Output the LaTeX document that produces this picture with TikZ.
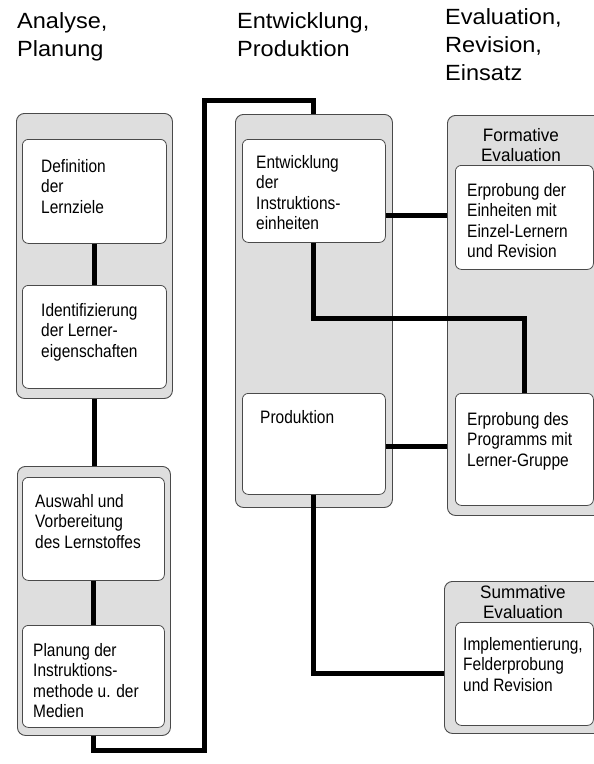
\documentclass[tikz,border=0pt]{standalone}
\usepackage{fontspec}
\setmainfont[FakeStretch=0.86]{Liberation Sans}
\newfontfamily\headfont[FakeStretch=1.07]{Liberation Sans}
\newfontfamily\titlefont[FakeStretch=0.95]{Liberation Sans}
\usetikzlibrary{calc}
\definecolor{groupgray}{HTML}{DEDEDE}
\definecolor{edgegray}{HTML}{4A4A4A}
\tikzset{
  group/.style={draw=edgegray, line width=0.9pt, fill=groupgray, rounded corners=8pt,
    anchor=north west, inner sep=0pt},
  card/.style={draw=edgegray, line width=0.8pt, fill=white, rounded corners=6pt,
    anchor=north west, inner sep=0pt},
  txt/.style={anchor=north west, inner sep=0pt, align=left,
    font=\fontsize{18}{20.5}\selectfont},
  ttl/.style={anchor=north, inner sep=0pt, align=center,
    font=\titlefont\fontsize{18}{20}\selectfont},
  head/.style={anchor=north west, inner sep=0pt, align=left,
    font=\headfont\fontsize{22}{28}\selectfont},
  link/.style={line width=5pt, black, line join=miter},
}
\begin{document}
\begin{tikzpicture}[x=1pt,y=-1pt]
\clip (0,0) rectangle (594,764);
\fill[white] (0,0) rectangle (594,764);

% column headings
\node[head] (h1) at (17,12) {Analyse,\\Planung};
\node[head] (h2) at (237,12) {Entwicklung,\\Produktion};
\node[head] (h3) at (445,8) {Evaluation,\\Revision,\\Einsatz};

% grey group panels
\node[group, minimum width=156, minimum height=285] (g1) at (16,113) {};
\node[group, minimum width=153, minimum height=269] (g2) at (17,466) {};
\node[group, minimum width=157, minimum height=393] (g3) at (235,114) {};
\node[group, minimum width=165, minimum height=400] (g4) at (447,115) {};
\node[group, minimum width=165, minimum height=152] (g5) at (444,581) {};

% white step cards
\node[card, minimum width=144, minimum height=104] (b1) at (22,139) {};
\node[card, minimum width=144, minimum height=103] (b2) at (22,285) {};
\node[card, minimum width=142, minimum height=103] (b3) at (22,477) {};
\node[card, minimum width=142, minimum height=102] (b4) at (22,625) {};
\node[card, minimum width=143, minimum height=103] (b5) at (242,139) {};
\node[card, minimum width=143, minimum height=101] (b6) at (242,393) {};
\node[card, minimum width=138, minimum height=104] (b7) at (455,165) {};
\node[card, minimum width=138, minimum height=112] (b8) at (455,393) {};
\node[card, minimum width=138, minimum height=103] (b9) at (455,622) {};

% card texts
\node[txt] (t1) at (41,159) {Definition\\der\\Lernziele};
\node[txt] (t2) at (41,303) {Identifizierung\\der Lerner-\\eigenschaften};
\node[txt] (t3) at (35,494) {Auswahl und\\Vorbereitung\\des Lernstoffes};
\node[txt] (t4) at (33,643) {Planung der\\Instruktions-\\methode u. der\\Medien};
\node[txt] (t5) at (256,155) {Entwicklung\\der\\Instruktions-\\einheiten};
\node[txt] (t6) at (260,410) {Produktion};
\node[txt] (t7) at (467,183) {Erprobung der\\Einheiten mit\\Einzel-Lernern\\und Revision};
\node[txt] (t8) at (467,412) {Erprobung des\\Programms mit\\Lerner-Gruppe};
\node[txt] (t9) at (463,637) {Implementierung,\\Felderprobung\\und Revision};

% panel titles
\node[ttl] (f1) at (521,128) {Formative\\Evaluation};
\node[ttl] (f2) at (523,585) {Summative\\Evaluation};

% connectors
\coordinate (lp1) at (204,750);
\coordinate (lp2) at (204,100);
\coordinate (e1) at ($(b5.east)+(0,25)$);
\draw[link] (b1.south) -- (b2.north);
\draw[link] (g1.south) -- (g1.south |- g2.north);
\draw[link] (b3.south) -- (b4.north);
\draw[link] (g2.south) |- (lp1) -- (lp2) -| (g3.north);
\draw[link] (b5.south) |- ($(b8.north)+(0,-75)$) -- (b8.north);
\draw[link] (e1) -- (e1 -| g4.west);
\draw[link] ($(b6.east)+(0,3)$) -- ($(b6.east -| g4.west)+(0,3)$);
\draw[link] (b6.south) |- ($(g5.west)+(0,16)$);
\end{tikzpicture}
\end{document}
